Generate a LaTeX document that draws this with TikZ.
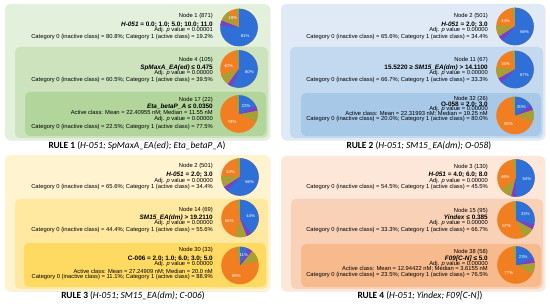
\documentclass[tikz,border=0pt]{standalone}
\usepackage{fontspec}
\setmainfont{Liberation Sans}
\newfontfamily\rulefont{Carlito}
\usetikzlibrary{shadows}
\definecolor{gA}{HTML}{E3F0DC}\definecolor{gB}{HTML}{CCE3BE}\definecolor{gC}{HTML}{B2D59B}
\definecolor{bA}{HTML}{DFEAF6}\definecolor{bB}{HTML}{C3D9EF}\definecolor{bC}{HTML}{A8C8E8}
\definecolor{yA}{HTML}{FFF4CF}\definecolor{yB}{HTML}{FFE9A0}\definecolor{yC}{HTML}{FFDA62}
\definecolor{oA}{HTML}{FDE7D9}\definecolor{oB}{HTML}{F9D1B6}\definecolor{oC}{HTML}{F6BA8D}
\definecolor{pieblue}{HTML}{2F6FD8}\definecolor{pieor}{HTML}{F27E22}
\definecolor{pieol}{HTML}{A89E34}\definecolor{piepu}{HTML}{7B40C4}
\newcommand\tsm{\fontsize{5.8}{6.5}\selectfont}
\newcommand\tbg{\fontsize{6.4}{7}\selectfont\bfseries}
\newcommand\pctf{\fontsize{4.3}{5}\selectfont}
\def\pr{18.8}
\newcommand\mypie[5]{%
\begin{scope}[shift={(#1,#2)},yscale=-1]
 \pgfmathsetmacro\ea{90-3.6*#3}
 \pgfmathsetmacro\eb{\ea-36}
 \pgfmathsetmacro\ec{\ea+15}
 \pgfmathsetmacro\ma{90-1.8*#3}
 \pgfmathsetmacro\mb{\ea-1.8*(100-#3)}
 \fill[pieor] (0,0) circle[radius=\pr];
 \fill[pieol] (0,0) -- (90:\pr) arc[start angle=90,end angle=101,radius=\pr] -- cycle;
 \fill[pieol] (0,0) -- (\ea:\pr) arc[start angle=\ea,end angle=\eb,radius=\pr] -- cycle;
 \fill[pieblue] (0,0) -- (90:\pr) arc[start angle=90,end angle=\ea,radius=\pr] -- cycle;
 \fill[piepu] (0,0) -- (\ec:\pr) arc[start angle=\ec,end angle=\ea,radius=\pr] -- cycle;
 \node[pct] at (\ma:{0.58*\pr}) {#4};
 \node[pct] at (\mb:{0.58*\pr}) {#5};
\end{scope}}
\tikzset{
 lbl/.style={anchor=base east,inner sep=0pt,font=\tsm},
 cond/.style={anchor=base east,inner sep=0pt,font=\tbg},
 pct/.style={inner sep=0pt,text=white,font=\pctf},
 panel/.style={fill=#1,rounded corners=5pt},
 outer/.style={fill=#1,rounded corners=5pt,drop shadow={opacity=0.12,shadow xshift=0.6pt,shadow yshift=-0.8pt}},
 rulelbl/.style={inner sep=0pt,font=\rulefont\fontsize{9.4}{11}\selectfont}
}
\begin{document}
\begin{tikzpicture}[x=1pt,y=-1pt]
\useasboundingbox[fill=white] (0,0) rectangle (550,307);
% ---------- Panel 1 (green)
\path[outer=gA] (5,4) rectangle (270,140);
\path[panel=gB] (15,47) rectangle (268,138);
\path[panel=gC] (25,92) rectangle (266,136);
\node[lbl] (p1a) at (213,18) {Node 1 (871)};
\node[cond] (p1b) at (213,26.4) {\textit{H-051} = 0.0; 1.0; 5.0; 10.0; 11.0};
\node[lbl] (p1c) at (213,32) {Adj. \textit{p} value = 0.00001};
\node[lbl] (p1d) at (213,39) {Category 0 (inactive class) = 80.8\%; Category 1 (active class) = 19.2\%};
\node[lbl] (p1e) at (213,62) {Node 4 (105)};
\node[cond] (p1f) at (213,69.4) {\textit{SpMaxA\_EA(ed)} ≤ 0.475};
\node[lbl] (p1g) at (213,75) {Adj. \textit{p} value = 0.00000};
\node[lbl] (p1h) at (213,82) {Category 0 (inactive class) = 60.5\%; Category 1 (active class) = 39.5\%};
\node[lbl] (p1i) at (213,102) {Node 17 (22)};
\node[cond] (p1j) at (213,108.4) {\textit{Eta\_betaP\_A} ≤ 0.0350};
\node[lbl] (p1k) at (213,115) {Active class: Mean = 22.40955 nM; Median = 11.55 nM};
\node[lbl] (p1l) at (213,121) {Adj. \textit{p} value = 0.00000};
\node[lbl] (p1m) at (213,129) {Category 0 (inactive class) = 22.5\%; Category 1 (active class) = 77.5\%};
\mypie{239}{27.5}{81}{81\%}{19\%}
\mypie{239}{69}{60}{60\%}{40\%}
\mypie{239}{114}{22}{22\%}{78\%}
\node[rulelbl] (r1) at (137,146) {\textbf{RULE 1} (\textit{H-051; SpMaxA\_EA(ed); Eta\_betaP\_A})};
% ---------- Panel 2 (blue)
\path[outer=bA] (281,4) rectangle (545,140);
\path[panel=bB] (290,47) rectangle (543,138);
\path[panel=bC] (301,93) rectangle (541,136);
\node[lbl] (p2a) at (488,18) {Node 2 (501)};
\node[cond] (p2b) at (488,26.4) {\textit{H-051} = 2.0; 3.0};
\node[lbl] (p2c) at (488,32) {Adj. \textit{p} value = 0.00000};
\node[lbl] (p2d) at (488,39) {Category 0 (inactive class) = 65.6\%; Category 1 (active class) = 34.4\%};
\node[lbl] (p2e) at (488,62) {Node 11 (67)};
\node[cond] (p2f) at (488,69.4) {15.5220 ≥ \textit{SM15\_EA(dm)} > 14.1100};
\node[lbl] (p2g) at (488,75) {Adj. \textit{p} value = 0.00000};
\node[lbl] (p2h) at (488,82) {Category 0 (inactive class) = 66.7\%; Category 1 (active class) = 33.3\%};
\node[lbl] (p2i) at (488,101) {Node 32 (26)};
\node[cond] (p2j) at (488,106.4) {O-058 = 2.0; 3.0};
\node[lbl] (p2k) at (488,111) {Adj. \textit{p} value = 0.00000};
\node[lbl] (p2l) at (488,116) {Active class: Mean = 22.31993 nM; Median = 19.25 nM};
\node[lbl] (p2m) at (488,121) {Category 0 (inactive class) = 20.0\%; Category 1 (active class) = 80.0\%};
\mypie{515}{26.5}{66}{66\%}{34\%}
\mypie{515}{69.5}{67}{67\%}{33\%}
\mypie{515}{115.5}{20}{20\%}{80\%}
\node[rulelbl] (r2) at (419,146) {\textbf{RULE 2} (\textit{H-051; SM15\_EA(dm); O-058})};
% ---------- Panel 3 (yellow)
\path[outer=yA] (5,155) rectangle (270,291);
\path[panel=yB] (15,199) rectangle (268,289);
\path[panel=yC] (24,243) rectangle (266,287);
\node[lbl] (p3a) at (213,168) {Node 2 (501)};
\node[cond] (p3b) at (213,176.4) {\textit{H-051} = 2.0; 3.0};
\node[lbl] (p3c) at (213,183) {Adj. \textit{p} value = 0.00000};
\node[lbl] (p3d) at (213,189) {Category 0 (inactive class) = 65.6\%; Category 1 (active class) = 34.4\%};
\node[lbl] (p3e) at (213,212) {Node 14 (69)};
\node[cond] (p3f) at (213,219.4) {\textit{SM15\_EA(dm)} > 19.2110};
\node[lbl] (p3g) at (213,225) {Adj. \textit{p} value = 0.00000};
\node[lbl] (p3h) at (213,232) {Category 0 (inactive class) = 44.4\%; Category 1 (active class) = 55.6\%};
\node[lbl] (p3i) at (213,252) {Node 30 (33)};
\node[cond] (p3j) at (213,260.4) {C-006 = 2.0; 1.0; 6.0; 3.0; 5.0};
\node[lbl] (p3k) at (213,266) {Adj. \textit{p} value = 0.00000};
\node[lbl] (p3l) at (213,273.5) {Active class: Mean = 27.24909 nM; Median = 20.0 nM};
\node[lbl] (p3m) at (213,279) {Category 0 (inactive class) = 11.1\%; Category 1 (active class) = 88.9\%};
\mypie{240}{177}{66}{66\%}{34\%}
\mypie{240}{218.5}{44}{44\%}{56\%}
\mypie{240}{265.5}{11}{11\%}{89\%}
\node[rulelbl] (r3) at (133,296) {\textbf{RULE 3} (\textit{H-051; SM15\_EA(dm); C-006})};
% ---------- Panel 4 (peach)
\path[outer=oA] (281,156) rectangle (545,291);
\path[panel=oB] (291,199) rectangle (543,289);
\path[panel=oC] (301,244) rectangle (541,287);
\node[lbl] (p4a) at (488,169) {Node 3 (130)};
\node[cond] (p4b) at (488,176.4) {\textit{H-051} = 4.0; 6.0; 8.0};
\node[lbl] (p4c) at (488,183) {Adj. \textit{p} value = 0.00000};
\node[lbl] (p4d) at (488,189) {Category 0 (inactive class) = 54.5\%; Category 1 (active class) = 45.5\%};
\node[lbl] (p4e) at (488,213) {Node 15 (95)};
\node[cond] (p4f) at (488,219.4) {\textit{Yindex} ≤ 0.385};
\node[lbl] (p4g) at (488,225) {Adj. \textit{p} value = 0.00000};
\node[lbl] (p4h) at (488,232) {Category 0 (inactive class) = 33.3\%; Category 1 (active class) = 66.7\%};
\node[lbl] (p4i) at (488,254) {Node 38 (58)};
\node[cond] (p4j) at (488,260.4) {\textit{F09[C-N]} ≤ 5.0};
\node[lbl] (p4k) at (488,266) {Adj. \textit{p} value = 0.00000};
\node[lbl] (p4l) at (488,271) {Active class: Mean = 12.94422 nM; Median = 3.6155 nM};
\node[lbl] (p4m) at (488,277) {Category 0 (inactive class) = 23.5\%; Category 1 (active class) = 76.5\%};
\mypie{516}{178}{54}{54\%}{46\%}
\mypie{516}{220}{33}{33\%}{67\%}
\mypie{516}{265}{23}{23\%}{77\%}
\node[rulelbl] (r4) at (420,296) {\textbf{RULE 4} (\textit{H-051; Yindex; F09[C-N]})};
\end{tikzpicture}
\end{document}
